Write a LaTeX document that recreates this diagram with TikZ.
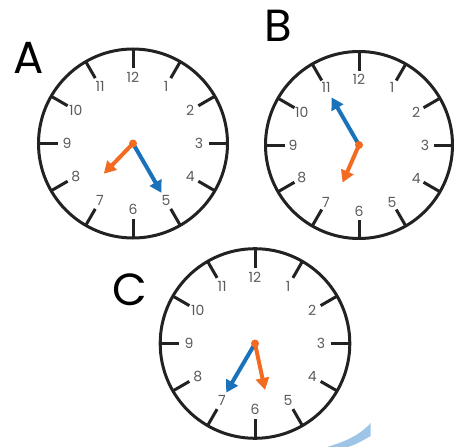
\documentclass[tikz,border=0pt]{standalone}
\usepackage{fontspec}
\setmainfont{Poppins}
\usetikzlibrary{arrows.meta}
\definecolor{clkline}{HTML}{222222}
\definecolor{numgray}{HTML}{5A5A5A}
\definecolor{handorange}{HTML}{F26B21}
\definecolor{handblue}{HTML}{1A73BA}
\definecolor{bandblue}{HTML}{9EC5E8}
\tikzset{
  rim/.style={draw=clkline, line width=3pt},
  ticklines/.style={draw=clkline, line width=3pt},
  num/.style={text=numgray, font=\fontsize{14}{14}\selectfont, inner sep=0pt},
  hand/.style={line width=4pt, -{Triangle[length=12pt,width=13pt]}},
  lbl/.style={font=\fontsize{45}{54}\selectfont, inner sep=0pt, text=black},
}
% #1 name, #2 cx, #3 cy, #4 radius, #5 minute angle, #6 minute length, #7 hour angle, #8 hour length
\newcommand\drawclock[8]{%
  \begin{scope}[shift={(#2,#3)}]
    \coordinate (#1c) at (0,0);
    \draw[rim] (#1c) circle[radius=#4];
    \foreach \k in {1,...,12}{
      \draw[ticklines] ({#4*sin(30*\k)},{-#4*cos(30*\k)}) -- ({(#4-19)*sin(30*\k)},{-(#4-19)*cos(30*\k)});
      \node[num] (#1n\k) at ({66*sin(30*\k)},{-66*cos(30*\k)}) {\k};
    }
    \coordinate (#1m) at ({#6*sin(#5)},{-#6*cos(#5)});
    \coordinate (#1h) at ({#8*sin(#7)},{-#8*cos(#7)});
    \draw[hand, handblue] (#1c) -- (#1m);
    \draw[hand, handorange] (#1c) -- (#1h);
    \fill[handorange] (#1c) circle[radius=4];
  \end{scope}%
}
\begin{document}
\begin{tikzpicture}[x=1pt, y=-1pt]
  \useasboundingbox (0,0) rectangle (464,447);
  \fill[bandblue] (327,447) .. controls (348,441) and (362,433) .. (370.7,423) -- (370.7,436) .. controls (362,441) and (355,445) .. (348,447) -- cycle;
  \drawclock{A}{133}{143.5}{94.5}{150}{57}{224}{42}
  \drawclock{B}{359}{145}{93.5}{330}{55}{203.6}{41}
  \drawclock{C}{255}{343.5}{94.8}{210.4}{57}{167.9}{47.5}
  \node[lbl] (labA) at (29,57.5) {A};
  \node[lbl] (labB) at (278,26) {B};
  \node[lbl] (labC) at (130,290) {C};
\end{tikzpicture}
\end{document}
